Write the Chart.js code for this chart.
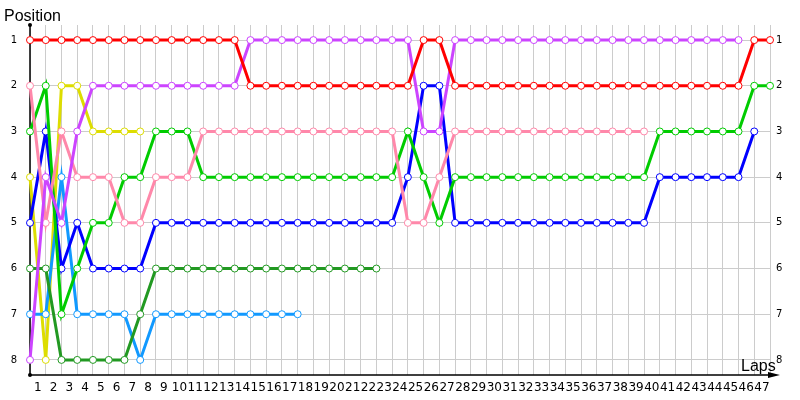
<!DOCTYPE html>
<html>
<head>
<meta charset="utf-8">
<script src="https://cdn.jsdelivr.net/npm/chart.js@4"></script>
<style>
html, body { margin: 0; padding: 0; background: #fff; }
#wrap { width: 800px; height: 400px; }
</style>
</head>
<body>
<div id="wrap"><canvas id="posChart" width="800" height="400"></canvas></div>
<script>
// laps 0..47, lap 0 is the starting grid
const laps = [0, 1, 2, 3, 4, 5, 6, 7, 8, 9, 10, 11, 12, 13, 14, 15, 16, 17, 18, 19, 20, 21, 22, 23,
    24, 25, 26, 27, 28, 29, 30, 31, 32, 33, 34, 35, 36, 37, 38, 39, 40, 41, 42, 43, 44, 45, 46, 47];
const posTicks = [1, 2, 3, 4, 5, 6, 7, 8];

// position per lap for each car (shorter arrays = retired)
const redPos = [1, 1, 1, 1, 1, 1, 1, 1, 1, 1, 1, 1, 1, 1, 2, 2, 2, 2, 2, 2, 2, 2, 2, 2, 2, 1, 1,
    2, 2, 2, 2, 2, 2, 2, 2, 2, 2, 2, 2, 2, 2, 2, 2, 2, 2, 2, 1, 1];
const purplePos = [8, 4, 5, 3, 2, 2, 2, 2, 2, 2, 2, 2, 2, 2, 1, 1, 1, 1, 1, 1, 1, 1, 1, 1, 1, 3, 3,
    1, 1, 1, 1, 1, 1, 1, 1, 1, 1, 1, 1, 1, 1, 1, 1, 1, 1, 1];
const pinkPos = [2, 5, 3, 4, 4, 4, 5, 5, 4, 4, 4, 3, 3, 3, 3, 3, 3, 3, 3, 3, 3, 3, 3, 3, 5, 5, 4,
    3, 3, 3, 3, 3, 3, 3, 3, 3, 3, 3, 3, 3];
const greenPos = [3, 2, 7, 6, 5, 5, 4, 4, 3, 3, 3, 4, 4, 4, 4, 4, 4, 4, 4, 4, 4, 4, 4, 4, 3, 4, 5,
    4, 4, 4, 4, 4, 4, 4, 4, 4, 4, 4, 4, 4, 3, 3, 3, 3, 3, 3, 2, 2];
const bluePos = [5, 3, 6, 5, 6, 6, 6, 6, 5, 5, 5, 5, 5, 5, 5, 5, 5, 5, 5, 5, 5, 5, 5, 5, 4, 2, 2,
    5, 5, 5, 5, 5, 5, 5, 5, 5, 5, 5, 5, 5, 4, 4, 4, 4, 4, 4, 3];
const darkGreenPos = [6, 6, 8, 8, 8, 8, 8, 7, 6, 6, 6, 6, 6, 6, 6, 6, 6, 6, 6, 6, 6, 6, 6];
const lightBluePos = [7, 7, 4, 7, 7, 7, 7, 8, 7, 7, 7, 7, 7, 7, 7, 7, 7, 7];
const yellowPos = [4, 8, 2, 2, 3, 3, 3, 3];

function car(data, color) {
    return {
        data: data,
        borderColor: color,
        borderWidth: 3,
        pointRadius: 3.5,
        pointHoverRadius: 3.5,
        pointBackgroundColor: '#fff',
        pointBorderColor: color,
        pointBorderWidth: 1,
        tension: 0,
        fill: false,
        clip: false
    };
}

// black axes with arrow, axis titles
const axisDecor = {
    id: 'axisDecor',
    beforeDatasetsDraw(chart) {
        const { ctx, chartArea: a } = chart;
        ctx.save();
        ctx.strokeStyle = '#000';
        ctx.fillStyle = '#000';
        ctx.lineWidth = 1.5;
        ctx.beginPath();
        ctx.moveTo(a.left, a.top);
        ctx.lineTo(a.left, a.bottom);
        ctx.lineTo(a.right + 2, a.bottom);
        ctx.stroke();
        ctx.beginPath();
        ctx.moveTo(a.right + 10, a.bottom);
        ctx.lineTo(a.right - 2, a.bottom - 3);
        ctx.lineTo(a.right - 2, a.bottom + 3);
        ctx.closePath();
        ctx.fill();
        ctx.beginPath();
        ctx.arc(a.left, a.top, 2, 0, Math.PI * 2);
        ctx.fill();
        ctx.beginPath();
        ctx.arc(a.left, a.bottom, 2, 0, Math.PI * 2);
        ctx.fill();
        ctx.restore();
    },
    afterDraw(chart) {
        const ctx = chart.ctx;
        ctx.save();
        ctx.fillStyle = '#000';
        ctx.font = '16px "Liberation Sans"';
        ctx.textBaseline = 'alphabetic';
        ctx.fillText('Position', 4, 21);
        ctx.fillText('Laps', 741, 371);
        ctx.restore();
    }
};

const ctx = document.getElementById('posChart').getContext('2d');
new Chart(ctx, {
    type: 'line',
    data: {
        labels: laps,
        datasets: [
            car(redPos, '#ff0000'),
            car(purplePos, '#cc44ff'),
            car(pinkPos, '#ff88aa'),
            car(greenPos, '#00cc00'),
            car(bluePos, '#0000ff'),
            car(darkGreenPos, '#229922'),
            car(lightBluePos, '#1199ff'),
            car(yellowPos, '#dddd00')
        ]
    },
    options: {
        responsive: false,
        animation: false,
        layout: { padding: { top: 25, left: 0, right: 0, bottom: 0 } },
        plugins: {
            legend: { display: false },
            tooltip: { enabled: false }
        },
        scales: {
            x: {
                type: 'category',
                offset: false,
                grid: { color: '#cccccc', drawTicks: false },
                border: { display: false },
                ticks: {
                    autoSkip: false,
                    maxRotation: 0,
                    minRotation: 0,
                    padding: 6,
                    labelOffset: -8,
                    color: '#000',
                    font: { family: 'DejaVu Sans', size: 12 },
                    callback: (val, i) => i === 0 ? '' : String(laps[i])
                },
                afterFit: s => { s.height = 25; }
            },
            y: {
                position: 'left',
                reverse: true,
                min: 0.67,
                max: 8.33,
                grid: { color: '#cccccc', drawTicks: false },
                border: { display: false },
                ticks: {
                    padding: 13,
                    color: '#000',
                    font: { family: 'DejaVu Sans', size: 10 }
                },
                afterBuildTicks: s => { s.ticks = posTicks.map(v => ({ value: v })); },
                afterFit: s => { s.width = 30; }
            },
            y2: {
                position: 'right',
                reverse: true,
                min: 0.67,
                max: 8.33,
                grid: { display: false, drawTicks: false },
                border: { display: false },
                ticks: {
                    padding: 6,
                    color: '#000',
                    font: { family: 'DejaVu Sans', size: 10 }
                },
                afterBuildTicks: s => { s.ticks = posTicks.map(v => ({ value: v })); },
                afterFit: s => { s.width = 30; }
            }
        }
    },
    plugins: [axisDecor]
});
</script>
</body>
</html>
